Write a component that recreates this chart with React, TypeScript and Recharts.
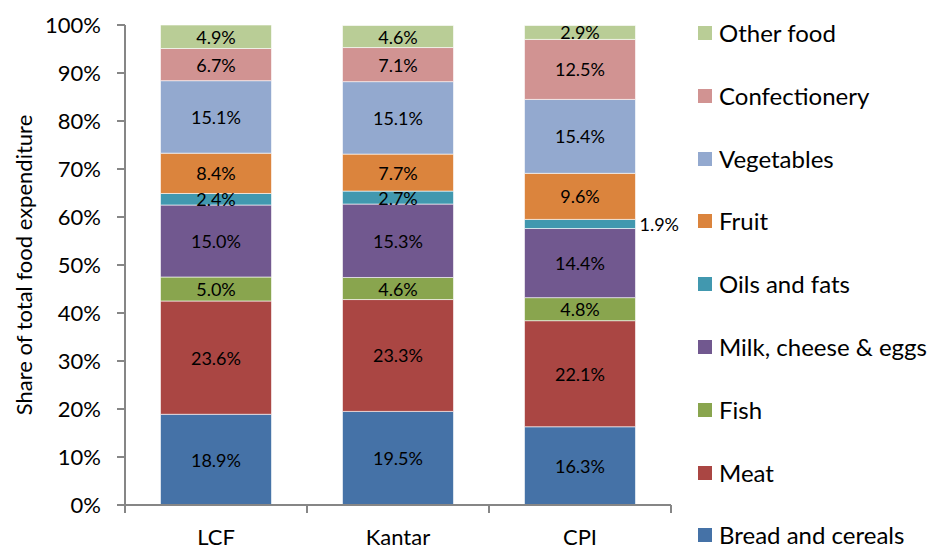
import { BarChart, Bar, XAxis, YAxis, LabelList } from 'recharts';

const categories = ['LCF', 'Kantar', 'CPI'];

const breadAndCereals = [18.9, 19.5, 16.3];
const meat = [23.6, 23.3, 22.1];
const fish = [5.0, 4.6, 4.8];
const milkCheeseEggs = [15.0, 15.3, 14.4];
const oilsAndFats = [2.4, 2.7, 1.9];
const fruit = [8.4, 7.7, 9.6];
const vegetables = [15.1, 15.1, 15.4];
const confectionery = [6.7, 7.1, 12.5];
const otherFood = [4.9, 4.6, 2.9];

const yTicks = [0, 10, 20, 30, 40, 50, 60, 70, 80, 90, 100];

const series = [
  { key: 'bread', name: 'Bread and cereals', values: breadAndCereals, color: '#4572A7' },
  { key: 'meat', name: 'Meat', values: meat, color: '#AA4643' },
  { key: 'fish', name: 'Fish', values: fish, color: '#89A54E' },
  { key: 'milk', name: 'Milk, cheese & eggs', values: milkCheeseEggs, color: '#71588F' },
  { key: 'oils', name: 'Oils and fats', values: oilsAndFats, color: '#4198AF' },
  { key: 'fruit', name: 'Fruit', values: fruit, color: '#DB843D' },
  { key: 'veg', name: 'Vegetables', values: vegetables, color: '#93A9CF' },
  { key: 'conf', name: 'Confectionery', values: confectionery, color: '#D19392' },
  { key: 'other', name: 'Other food', values: otherFood, color: '#B9CD96' },
];

const data = categories.map((cat, i) => {
  const row: Record<string, string | number> = { cat };
  series.forEach(s => { row[s.key] = s.values[i]; });
  return row;
});

const FONT = 'Lato, "Open Sans", sans-serif';
const AXIS = '#868686';

const renderLabel = (p: any) => {
  const { x, y, width, height, value } = p;
  const txt = `${Number(value).toFixed(1)}%`;
  if (height < 10) {
    return (
      <text x={x + width + 4} y={y + height / 2} textAnchor="start" dominantBaseline="central"
        fontSize={18} fontFamily={FONT} fill="#000">{txt}</text>
    );
  }
  return (
    <text x={x + width / 2} y={y + height / 2} textAnchor="middle" dominantBaseline="central"
      fontSize={18} fontFamily={FONT} fill="#000">{txt}</text>
  );
};

const XTick = (props: any) => {
  const { x, y, payload } = props;
  const half = 91;
  const base = y - 10;
  return (
    <g>
      <line x1={x - half} x2={x - half} y1={base} y2={base + 8} stroke={AXIS} strokeWidth={2} />
      <line x1={x + half} x2={x + half} y1={base} y2={base + 8} stroke={AXIS} strokeWidth={2} />
      <text x={x} y={y + 21} textAnchor="middle" dominantBaseline="central" fontSize={22}
        fontFamily={FONT} fill="#000">{payload.value}</text>
    </g>
  );
};

const legendItems = [...series].reverse();

export default function App() {
  return (
    <div style={{ position: 'absolute', left: 0, top: 0, width: 935, height: 549, background: '#fff' }}>
      <BarChart width={935} height={549} data={data} barCategoryGap="19.5%"
        margin={{ top: 25, right: 264, bottom: 0, left: 0 }}>
        <XAxis dataKey="cat" height={44} tickLine={false} tickSize={8} tickMargin={2}
          axisLine={{ stroke: AXIS, strokeWidth: 2 }} tick={<XTick />} interval={0} />
        <YAxis width={125} domain={[0, 100]} ticks={yTicks} tickFormatter={v => `${v}%`}
          tickSize={8} tickMargin={16} interval={0}
          axisLine={{ stroke: AXIS, strokeWidth: 2 }} tickLine={{ stroke: AXIS, strokeWidth: 2 }}
          tick={{ fontSize: 22, fontFamily: FONT, fill: '#000' }}
          label={{
            content: () => (
              <text x={23} y={265} transform="rotate(-90 23 265)" textAnchor="middle"
                dominantBaseline="central" fontSize={22} fontFamily={FONT} fill="#000">
                Share of total food expenditure
              </text>
            ),
          }} />
        {series.map(s => (
          <Bar key={s.key} dataKey={s.key} name={s.name} stackId="a" fill={s.color}
            stroke="#fff" strokeWidth={0.6} isAnimationActive={false}>
            <LabelList dataKey={s.key} content={renderLabel} />
          </Bar>
        ))}
      </BarChart>
      {legendItems.map((s, i) => (
        <div key={s.key} style={{
          position: 'absolute', left: 698, top: 33 + i * 62.8 - 12, height: 24, lineHeight: 1,
          display: 'flex', alignItems: 'center', fontFamily: FONT, fontSize: 24, color: '#000',
          whiteSpace: 'nowrap',
        }}>
          <span style={{ display: 'inline-block', width: 14, height: 14, background: s.color, marginRight: 7 }} />
          {s.name}
        </div>
      ))}
    </div>
  );
}
